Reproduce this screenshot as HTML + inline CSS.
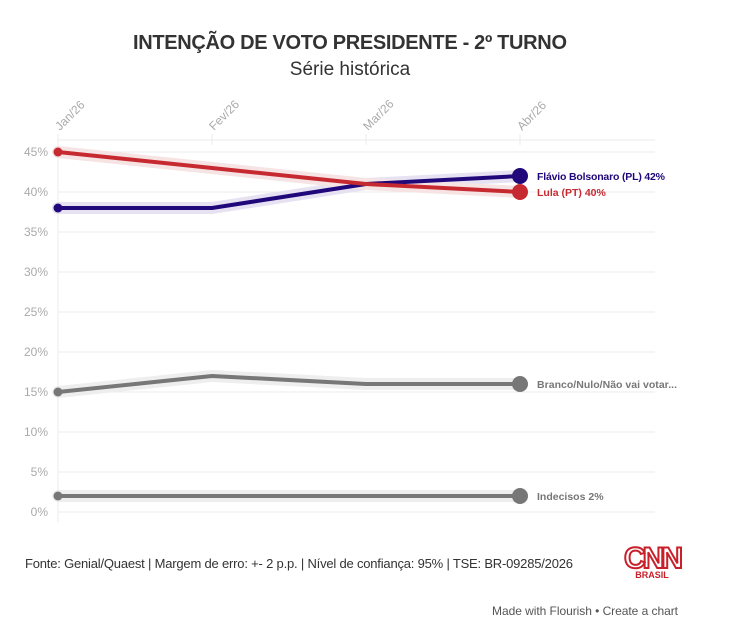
<!DOCTYPE html>
<html><head><meta charset="utf-8"><style>
body{margin:0;background:#fff;width:743px;height:629px;overflow:hidden;font-family:"Liberation Sans",sans-serif}
</style></head><body>
<svg width="743" height="629" xmlns="http://www.w3.org/2000/svg" font-family="Liberation Sans, sans-serif">
<text x="350" y="49" text-anchor="middle" font-size="20" font-weight="bold" fill="#333" textLength="434">INTENÇÃO DE VOTO PRESIDENTE - 2º TURNO</text>
<text x="350" y="75" text-anchor="middle" font-size="19" fill="#333">Série histórica</text>
<g stroke="#ebebeb" stroke-width="1">
<line x1="58" y1="140" x2="655" y2="140"/>
<line x1="58" y1="152" x2="655" y2="152"/><line x1="58" y1="192" x2="655" y2="192"/>
<line x1="58" y1="232" x2="655" y2="232"/><line x1="58" y1="272" x2="655" y2="272"/>
<line x1="58" y1="312" x2="655" y2="312"/><line x1="58" y1="352" x2="655" y2="352"/>
<line x1="58" y1="392" x2="655" y2="392"/><line x1="58" y1="432" x2="655" y2="432"/>
<line x1="58" y1="472" x2="655" y2="472"/><line x1="58" y1="512" x2="655" y2="512"/>
<line x1="58" y1="134" x2="58" y2="522"/>
<line x1="212" y1="134" x2="212" y2="145"/><line x1="366" y1="134" x2="366" y2="145"/><line x1="520" y1="134" x2="520" y2="145"/>
</g>
<g font-size="12" fill="#aaa" text-anchor="end">
<text x="48" y="156">45%</text><text x="48" y="196">40%</text><text x="48" y="236">35%</text>
<text x="48" y="276">30%</text><text x="48" y="316">25%</text><text x="48" y="356">20%</text>
<text x="48" y="396">15%</text><text x="48" y="436">10%</text><text x="48" y="476">5%</text><text x="48" y="516">0%</text>
</g>
<g font-size="12" fill="#aaa">
<text transform="translate(60,131) rotate(-45)">Jan/26</text>
<text transform="translate(214,131) rotate(-45)">Fev/26</text>
<text transform="translate(368,131) rotate(-45)">Mar/26</text>
<text transform="translate(522,131) rotate(-45)">Abr/26</text>
</g>
<g fill="none" stroke-linejoin="round" stroke-linecap="round">
<polyline points="58,496 212,496 366,496 520,496" stroke="#eee" stroke-width="12"/>
<polyline points="58,392 212,376 366,384 520,384" stroke="#eee" stroke-width="12"/>
<polyline points="58,208 212,208 366,184 520,176" stroke="#e6e2f2" stroke-width="12"/>
<polyline points="58,152 212,168 366,184 520,192" stroke="#f6e3e4" stroke-width="12"/>
<polyline points="58,496 212,496 366,496 520,496" stroke="#777" stroke-width="4"/>
<polyline points="58,392 212,376 366,384 520,384" stroke="#777" stroke-width="4"/>
<polyline points="58,208 212,208 366,184 520,176" stroke="#20087a" stroke-width="4"/>
<polyline points="58,152 212,168 366,184 520,192" stroke="#c62a30" stroke-width="4"/>
</g>
<circle cx="58" cy="496" r="4.5" fill="#777"/><circle cx="520" cy="496" r="8" fill="#777"/>
<circle cx="58" cy="392" r="4.5" fill="#777"/><circle cx="520" cy="384" r="8" fill="#777"/>
<circle cx="58" cy="208" r="4.5" fill="#20087a"/><circle cx="520" cy="176" r="8" fill="#20087a"/>
<circle cx="58" cy="152" r="4.5" fill="#c62a30"/><circle cx="520" cy="192" r="8" fill="#c62a30"/>
<g font-size="10.5" font-weight="bold">
<text x="537" y="180" fill="#20087a" textLength="128">Flávio Bolsonaro (PL) 42%</text>
<text x="537" y="196" fill="#c62a30">Lula (PT) 40%</text>
<text x="537" y="388" fill="#777" textLength="140">Branco/Nulo/Não vai votar...</text>
<text x="537" y="500" fill="#777">Indecisos 2%</text>
</g>
<text x="25" y="568" font-size="13" fill="#333" textLength="548">Fonte: Genial/Quaest | Margem de erro: +- 2 p.p. | Nível de confiança: 95% | TSE: BR-09285/2026</text>
<text x="652" y="568" text-anchor="middle" font-size="30" font-weight="bold" fill="none" stroke="#c8202a" stroke-width="2" letter-spacing="-3">CNN</text>
<text x="652" y="578" text-anchor="middle" font-size="9" font-weight="bold" fill="#c8202a">BRASIL</text>
<text x="678" y="615" text-anchor="end" font-size="12" fill="#555" textLength="186">Made with Flourish • Create a chart</text>
</svg>
</body></html>
